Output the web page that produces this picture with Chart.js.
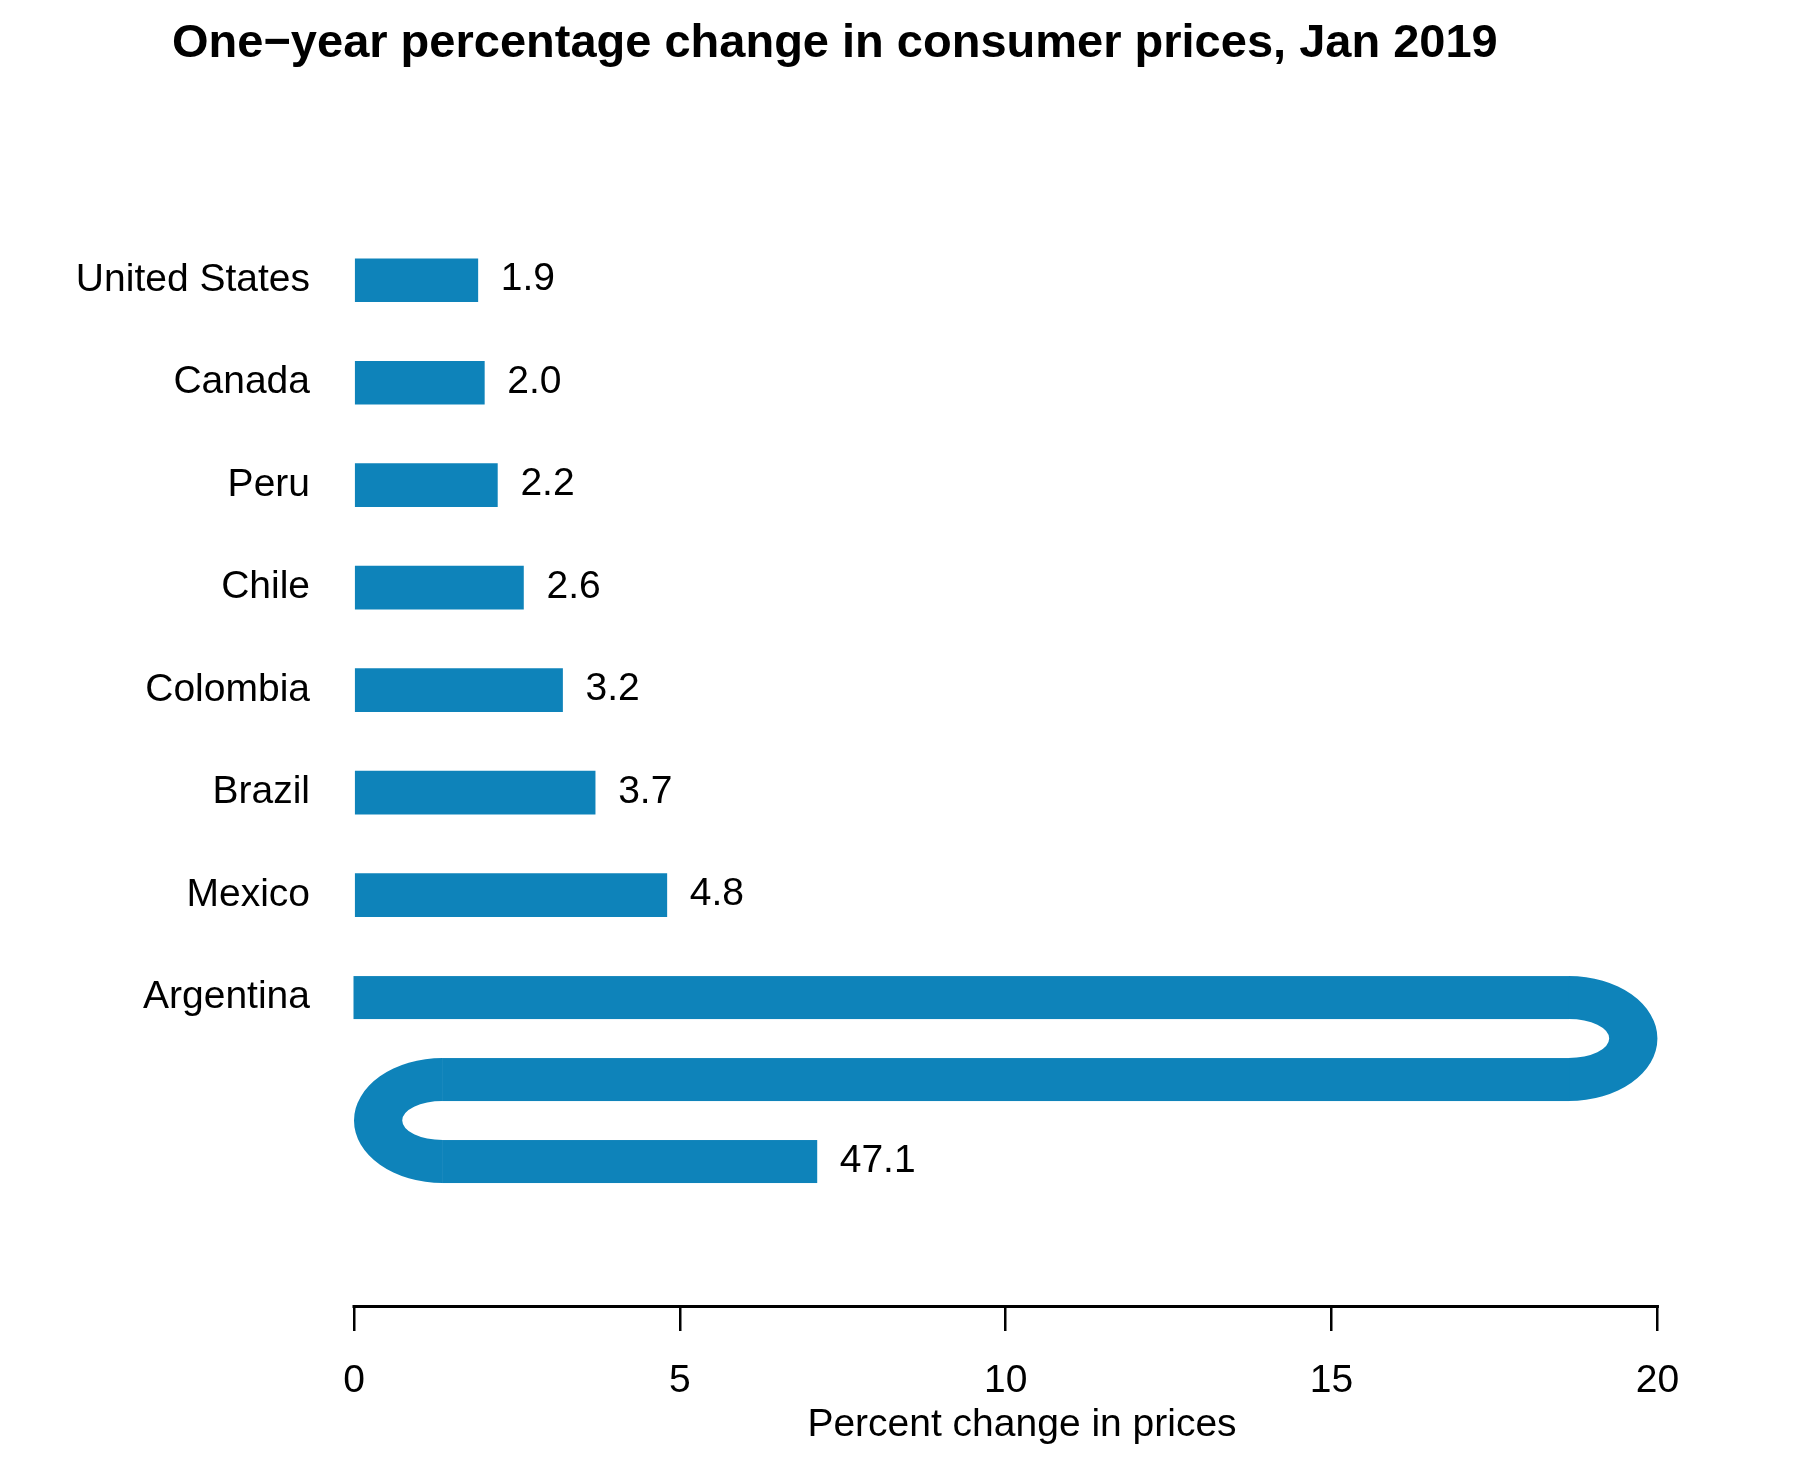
<!DOCTYPE html>
<html>
<head>
<meta charset="utf-8">
<title>One-year percentage change in consumer prices, Jan 2019</title>
<script src="https://cdn.jsdelivr.net/npm/chart.js@4.4.1/dist/chart.umd.min.js"></script>
<style>
    html, body { margin: 0; padding: 0; background: #ffffff; }
    #wrap { width: 1817px; height: 1476px; }
</style>
</head>
<body>
<div id="wrap"><canvas id="chart_prices"></canvas></div>
<script>
const countries = ["United States", "Canada", "Peru", "Chile", "Colombia", "Brazil", "Mexico", "Argentina"];
const changes = [1.9, 2.0, 2.2, 2.6, 3.2, 3.7, 4.8, 47.1];
const xTicks = [0, 5, 10, 15, 20];

const chartTitle = "One\u2212year percentage change in consumer prices, Jan 2019";
const axisTitle = "Percent change in prices";

const FONT = "'Liberation Sans', Arial, Helvetica, sans-serif";
const BLUE = "#0E83BA";

const $chart_prices = document.getElementById("chart_prices");

// the value past the end of the axis gets folded back and forth like a snake
const wrapIndex = changes.findIndex((v) => v > xTicks[xTicks.length - 1]);

const titlePlugin = {
    id: "titlePlugin",
    afterDraw(chart) {
        const ctx = chart.ctx;
        ctx.save();
        ctx.font = "bold 47px " + FONT;
        ctx.fillStyle = "#000";
        ctx.textAlign = "left";
        ctx.textBaseline = "alphabetic";
        ctx.fillText(chartTitle, 172, 57);
        ctx.restore();
    },
};

const axisLinePlugin = {
    id: "axisLinePlugin",
    afterDraw(chart) {
        const x = chart.scales.x;
        const ctx = chart.ctx;
        const y = chart.chartArea.bottom + 1.5;
        ctx.save();
        ctx.strokeStyle = "#000";
        ctx.lineWidth = 3;
        ctx.lineCap = "square";
        ctx.beginPath();
        ctx.moveTo(x.getPixelForValue(xTicks[0]), y);
        ctx.lineTo(x.getPixelForValue(xTicks[xTicks.length - 1]), y);
        ctx.stroke();
        ctx.restore();
    },
};

const snakePlugin = {
    id: "snakePlugin",
    afterDatasetsDraw(chart) {
        if (wrapIndex < 0) return;
        const xs = chart.scales.x;
        const ys = chart.scales.y;
        const ctx = chart.ctx;
        const el = chart.getDatasetMeta(0).data[wrapIndex];
        const h = el.height;
        const top = xTicks[xTicks.length - 1];
        const value = changes[wrapIndex];
        const laps = Math.floor(value / top);
        const rest = value - laps * top;
        const turn = 1.36;
        const turnIn = 0.62;
        const pitch = ys.getPixelForValue(wrapIndex + 0.8) - ys.getPixelForValue(wrapIndex);
        const rowY = (k) => el.y + k * pitch;
        const px = (v) => xs.getPixelForValue(v);
        const ryo = pitch / 2 + h / 2;
        const ryi = pitch / 2 - h / 2;
        const rxo = px(turn) - px(0);
        const rxi = px(turnIn) - px(0);

        ctx.save();
        ctx.fillStyle = BLUE;
        for (let k = 0; k <= laps; k++) {
            const goingRight = k % 2 === 0;
            let a;
            let b;
            if (goingRight) {
                a = k === 0 ? 0 : turn;
                b = k < laps ? top - turn : rest;
            } else {
                a = top - turn;
                b = k < laps ? turn : top - rest;
            }
            const x1 = Math.min(px(a), px(b));
            const x2 = Math.max(px(a), px(b));
            ctx.fillRect(x1 - 0.5, rowY(k) - h / 2, x2 - x1 + 1, h);

            if (k < laps) {
                const cx = goingRight ? px(top - turn) : px(turn);
                const cy = (rowY(k) + rowY(k + 1)) / 2;
                ctx.beginPath();
                if (goingRight) {
                    ctx.ellipse(cx, cy, rxo, ryo, 0, -Math.PI / 2, Math.PI / 2, false);
                    ctx.ellipse(cx, cy, rxi, ryi, 0, Math.PI / 2, -Math.PI / 2, true);
                } else {
                    ctx.ellipse(cx, cy, rxo, ryo, 0, -Math.PI / 2, Math.PI / 2, true);
                    ctx.ellipse(cx, cy, rxi, ryi, 0, Math.PI / 2, -Math.PI / 2, false);
                }
                ctx.closePath();
                ctx.fill();
            }
        }

        const endX = laps % 2 === 0 ? px(rest) : px(top - rest);
        ctx.font = "39px " + FONT;
        ctx.fillStyle = "#000";
        ctx.textAlign = "left";
        ctx.textBaseline = "alphabetic";
        ctx.fillText(value.toFixed(1), endX + 23, rowY(laps) + 10);
        ctx.restore();
    },
};

const valueLabelPlugin = {
    id: "valueLabelPlugin",
    afterDatasetsDraw(chart) {
        const ctx = chart.ctx;
        const meta = chart.getDatasetMeta(0);
        ctx.save();
        ctx.font = "39px " + FONT;
        ctx.fillStyle = "#000";
        ctx.textAlign = "left";
        ctx.textBaseline = "alphabetic";
        meta.data.forEach((bar, i) => {
            if (i === wrapIndex) return;
            ctx.fillText(changes[i].toFixed(1), bar.x + 23, bar.y + 10);
        });
        ctx.restore();
    },
};

new Chart($chart_prices, {
    type: "bar",
    data: {
        datasets: [
            {
                label: "Percent change",
                data: changes.map((v, i) => ({ x: v, y: i })),
                backgroundColor: changes.map((v, i) => (i === wrapIndex ? "rgba(0,0,0,0)" : BLUE)),
                borderWidth: 0,
                barThickness: 43,
            },
        ],
    },
    options: {
        indexAxis: "y",
        responsive: true,
        maintainAspectRatio: false,
        devicePixelRatio: 1,
        animation: false,
        layout: {
            padding: { top: 229, left: 0, right: 127, bottom: 0 },
        },
        plugins: {
            legend: { display: false },
            tooltip: { enabled: false },
            title: { display: false },
        },
        scales: {
            x: {
                type: "linear",
                position: "bottom",
                min: 0,
                max: 20.5,
                offset: false,
                afterBuildTicks: (scale) => {
                    scale.ticks = xTicks.map((v) => ({ value: v }));
                },
                afterFit: (scale) => {
                    scale.height = 171;
                },
                border: { display: false },
                grid: {
                    display: true,
                    offset: false,
                    drawOnChartArea: false,
                    drawTicks: true,
                    tickLength: 26,
                    color: "#000",
                    lineWidth: 2.5,
                },
                ticks: {
                    color: "#000",
                    font: { family: FONT, size: 39 },
                    padding: 27,
                    maxRotation: 0,
                },
                title: {
                    display: true,
                    text: axisTitle,
                    color: "#000",
                    font: { family: FONT, size: 39 },
                    padding: { top: 0, bottom: 27 },
                },
            },
            y: {
                type: "linear",
                reverse: true,
                offset: false,
                min: -0.5,
                max: 10,
                afterFit: (scale) => {
                    scale.width = 354;
                },
                border: { display: false },
                grid: { display: false, drawTicks: false, offset: false },
                ticks: {
                    stepSize: 1,
                    includeBounds: false,
                    autoSkip: false,
                    color: "#000",
                    font: { family: FONT, size: 39 },
                    padding: 44,
                    callback: (v) => (countries[v] !== undefined ? countries[v] : ""),
                },
            },
        },
    },
    plugins: [valueLabelPlugin, snakePlugin, axisLinePlugin, titlePlugin],
});
</script>
</body>
</html>
